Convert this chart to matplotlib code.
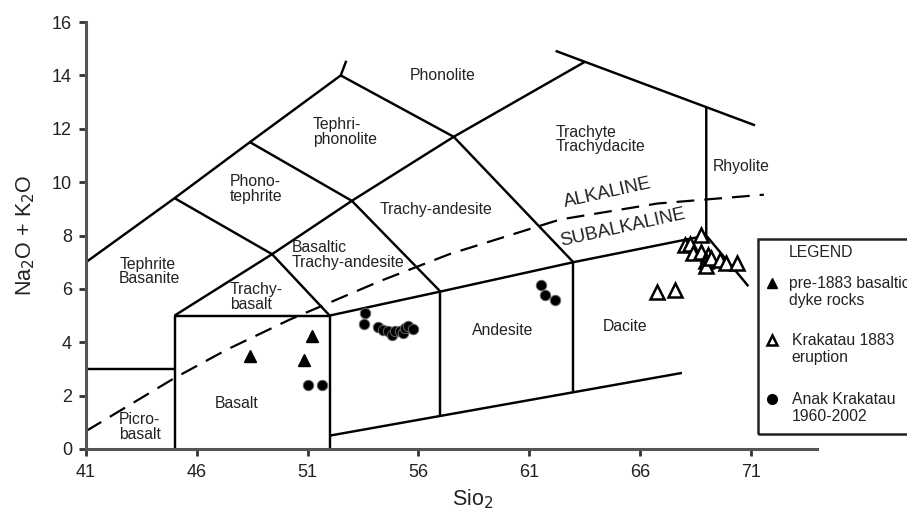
import matplotlib.pyplot as plt
from matplotlib.patches import Rectangle

plt.rcParams["font.family"] = ["Liberation Sans", "DejaVu Sans"]

# TAS field boundaries (SiO2, Na2O+K2O) as polylines
boundaries = [
    [(41, 7), (45, 9.4), (48.4, 11.5), (52.5, 14), (52.75, 14.55)],
    [(41, 3), (45, 3)],
    [(45, 0), (45, 5), (52, 5), (52, 0)],
    [(45, 5), (49.4, 7.3), (52, 5)],
    [(45, 9.4), (49.4, 7.3)],
    [(48.4, 11.5), (53, 9.3), (57, 5.9)],
    [(49.4, 7.3), (53, 9.3), (57.6, 11.7), (63.5, 14.5)],
    [(52.5, 14), (57.6, 11.7), (63, 7)],
    [(52, 5), (57, 5.9), (63, 7), (69, 8)],
    [(57, 5.9), (57, 1.24)],
    [(63, 7), (63, 2.13)],
    [(52, 0.5), (67.9, 2.85)],
    [(62.2, 14.92), (71.2, 12.13)],
    [(69, 12.8), (69, 8), (70.9, 6.1)],
]

# Irvine & Baragar alkaline / subalkaline divide
alk_x = [41, 45, 47.35, 50.2, 54.3, 57.4, 62.4, 66.8, 71.6]
alk_y = [0.67, 2.66, 3.72, 4.85, 6.3, 7.3, 8.6, 9.2, 9.53]

# field names: (x, y, text, ha)
field_labels = [
    (42.5, 6.65, "Tephrite\nBasanite", "left"),
    (42.5, 0.82, "Picro-\nbasalt", "left"),
    (47.8, 1.7, "Basalt", "center"),
    (47.5, 5.69, "Trachy-\nbasalt", "left"),
    (50.3, 7.28, "Basaltic\nTrachy-andesite", "left"),
    (47.5, 9.75, "Phono-\ntephrite", "left"),
    (51.25, 11.89, "Tephri-\nphonolite", "left"),
    (55.6, 14.0, "Phonolite", "left"),
    (54.27, 8.97, "Trachy-andesite", "left"),
    (62.2, 11.6, "Trachyte\nTrachydacite", "left"),
    (69.28, 10.6, "Rhyolite", "left"),
    (59.83, 4.44, "Andesite", "center"),
    (65.35, 4.6, "Dacite", "center"),
]

# samples
pre1883_sio2 = [48.4, 50.84, 51.21]
pre1883_alk = [3.5, 3.32, 4.24]

k1883_sio2 = [66.78, 67.61, 68.74, 68.03, 68.26, 68.41, 68.78, 69.08, 69.0, 69.0, 69.23, 69.6, 69.9, 70.4]
k1883_alk = [5.87, 5.94, 8.03, 7.65, 7.69, 7.34, 7.40, 7.28, 7.03, 6.84, 7.16, 7.09, 6.97, 6.97]

anak_sio2 = [51.02, 51.67, 53.59, 53.56, 54.19, 54.42, 54.65, 54.80, 54.95, 55.17, 55.32,
             55.40, 55.55, 55.77, 61.56, 61.71, 62.16]
anak_alk = [2.38, 2.38, 5.1, 4.69, 4.57, 4.47, 4.43, 4.28, 4.43, 4.41, 4.35,
            4.53, 4.62, 4.50, 6.16, 5.78, 5.6]

xticks = [41, 46, 51, 56, 61, 66, 71]
yticks = [0, 2, 4, 6, 8, 10, 12, 14, 16]

fig = plt.figure(figsize=(9.07, 5.13), dpi=100)
ax = fig.add_axes([0.0948, 0.1248, 0.806, 0.8322])

for line in boundaries:
    xs, ys = zip(*line)
    ax.plot(xs, ys, color="black", lw=1.75, solid_capstyle="butt", zorder=2)

ax.plot(alk_x, alk_y, color="black", lw=1.6, dashes=(8, 4.5), zorder=2)

for x, y, txt, ha in field_labels:
    ax.text(x, y, txt, ha=ha, va="center", fontsize=11.3, color="#222222", linespacing=0.97)

ax.text(64.55, 9.6, "ALKALINE", ha="center", va="center", fontsize=13.5, rotation=12.5, color="#222222")
ax.text(65.25, 8.3, "SUBALKALINE", ha="center", va="center", fontsize=13.5, rotation=12.5, color="#222222")

ax.plot(pre1883_sio2, pre1883_alk, "^", color="black", ms=8, zorder=3)
ax.plot(k1883_sio2, k1883_alk, "^", mfc="white", mec="black", mew=1.8, ms=9.5, ls="none", zorder=3)
ax.plot(anak_sio2, anak_alk, "o", mfc="black", mec="#666666", mew=0.7, ms=7.5, ls="none", zorder=4)

# legend box, running off the right edge
ax.add_patch(Rectangle((71.33, 0.56), 12, 7.32, fill=False, ec="#222222", lw=1.8,
                       clip_on=False, zorder=5))
ax.text(72.74, 7.38, "LEGEND", ha="left", va="center", fontsize=11.3, color="#222222", clip_on=False)
ax.plot([71.97], [6.22], "^", color="black", ms=6.5, clip_on=False)
ax.text(72.74, 5.89, "pre-1883 basaltic\ndyke rocks", ha="left", va="center", fontsize=11.3,
        color="#222222", linespacing=1.15, clip_on=False)
ax.plot([71.97], [4.1], "^", mfc="white", mec="black", mew=1.8, ms=7.5, clip_on=False)
ax.text(72.85, 3.76, "Krakatau 1883\neruption", ha="left", va="center", fontsize=11.3,
        color="#222222", linespacing=1.15, clip_on=False)
ax.plot([71.97], [1.88], "o", color="black", ms=7, clip_on=False)
ax.text(72.85, 1.55, "Anak Krakatau\n1960-2002", ha="left", va="center", fontsize=11.3,
        color="#222222", linespacing=1.15, clip_on=False)

ax.set_xlim(41, 74)
ax.set_ylim(0, 16)
ax.set_xticks(xticks)
ax.set_yticks(yticks)
ax.tick_params(labelsize=13, length=5, width=2, color="#333333", labelcolor="#222222")
ax.tick_params(axis="x", pad=6)
ax.tick_params(axis="y", pad=5)
for side in ("top", "right"):
    ax.spines[side].set_visible(False)
for side in ("left", "bottom"):
    ax.spines[side].set_color("#555555")
    ax.spines[side].set_linewidth(2.2)

ax.set_xlabel("Sio$_2$", fontsize=15.5, color="#222222", va="center")
ax.set_ylabel("Na$_2$O + K$_2$O", fontsize=15.5, color="#222222")
ax.xaxis.set_label_coords(0.529, -0.118)
ax.yaxis.set_label_coords(-0.067, 0.5)

fig.savefig("out.png")
